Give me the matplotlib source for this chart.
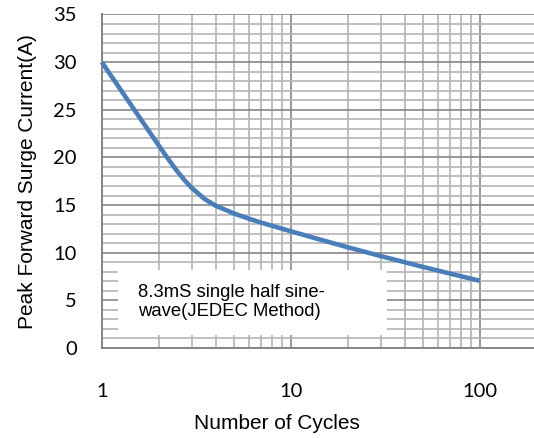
import matplotlib
matplotlib.use('Agg')
import matplotlib.pyplot as plt
from matplotlib.patches import Rectangle
from matplotlib.ticker import FixedLocator, NullFormatter

# Data
cycles = [1, 2, 2.25, 2.5, 2.75, 3, 3.5, 4, 5, 6, 7, 8, 10, 15, 20, 30, 50, 70, 100]
current = [30.0, 21.27, 19.82, 18.58, 17.58, 16.78, 15.64, 14.94, 14.12, 13.57,
           13.15, 12.81, 12.25, 11.26, 10.57, 9.64, 8.51, 7.8, 7.05]

x_major = [1, 10, 100]
x_minor = [2, 3, 4, 5, 6, 7, 8, 9, 20, 30, 40, 50, 60, 70, 80, 90]
y_major = [0, 5, 10, 15, 20, 25, 30, 35]
y_minor = list(range(0, 36))

note = '8.3mS single half sine-\nwave(JEDEC Method)'

fig = plt.figure(figsize=(5.34, 4.38), dpi=100)
ax = fig.add_axes([0.1905, 0.2055, 0.8095, 0.7615])

ax.set_xscale('log')
ax.set_xlim(1, 193.7)
ax.set_ylim(0, 35)

ax.xaxis.set_major_locator(FixedLocator(x_major))
ax.xaxis.set_minor_locator(FixedLocator(x_minor))
ax.xaxis.set_minor_formatter(NullFormatter())
ax.set_xticklabels(['1', '10', '100'])
ax.yaxis.set_major_locator(FixedLocator(y_major))
ax.yaxis.set_minor_locator(FixedLocator(y_minor))

ax.grid(which='minor', color='#b4b4b4', linewidth=1.2)
ax.grid(which='major', color='#868686', linewidth=1.2)
ax.set_axisbelow(True)

ax.tick_params(which='both', length=0)
ax.tick_params(axis='y', pad=18)
ax.tick_params(axis='x', pad=25)
for lab in ax.get_xticklabels() + ax.get_yticklabels():
    lab.set_fontfamily('Lato')
    lab.set_fontsize(14.5)
    lab.set_color('black')

for s in ['top', 'right']:
    ax.spines[s].set_visible(False)
for s in ['left', 'bottom']:
    ax.spines[s].set_color('#868686')
    ax.spines[s].set_linewidth(1.4)

ax.plot(cycles, current, color='#4a7ebb', linewidth=3.3,
        solid_capstyle='butt', solid_joinstyle='round', zorder=4, clip_on=False)

ax.add_patch(Rectangle((0.0377, 0.039), 0.622, 0.195, transform=ax.transAxes,
                       facecolor='white', edgecolor='none', zorder=3))
ax.text(0.084, 0.138, note, transform=ax.transAxes, va='center', ha='left',
        fontsize=13.3, family='Liberation Sans', linespacing=1.1, zorder=5)

ax.set_xlabel('Number of Cycles', fontsize=15, family='Liberation Sans')
ax.xaxis.set_label_coords(0.405, -0.198)
ax.set_ylabel('Peak Forward Surge Current(A)', fontsize=15, family='Liberation Sans')
ax.yaxis.set_label_coords(-0.15, 0.5)

fig.savefig('out.png', dpi=100)
